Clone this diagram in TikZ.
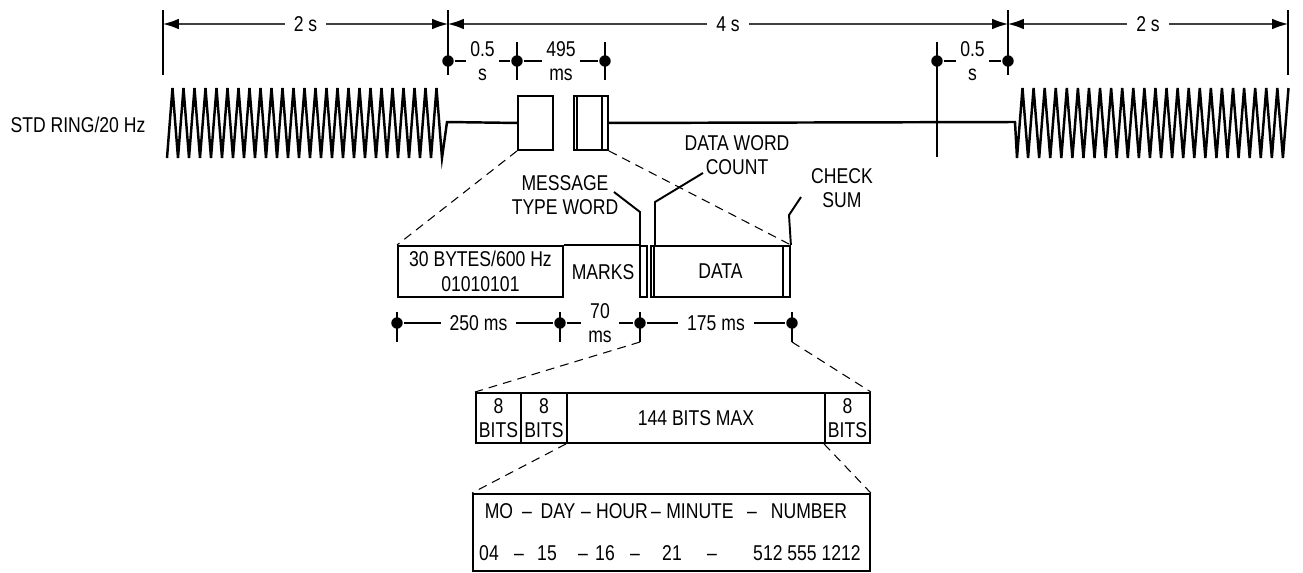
\documentclass[tikz,border=0pt]{standalone}
\usepackage{fontspec}
\setmainfont{Liberation Sans}[FakeStretch=0.82]
\usetikzlibrary{arrows.meta}

\tikzset{
  box/.style={draw, line width=1.1pt, inner sep=0pt, anchor=north west, align=center},
  pt/.style={circle, fill, inner sep=0pt, minimum size=6.5pt},
  gap/.style={fill=white, inner xsep=5pt, inner ysep=1pt, align=center},
  tick/.style={line width=1.1pt},
  zoomline/.style={dash pattern=on 5pt off 3.5pt, line width=0.6pt},
  span/.style={{Latex[length=9pt,width=6pt,color=black]}-{Latex[length=9pt,width=6pt,color=black]}, line width=0.7pt, black!75},
}

\begin{document}
\begin{tikzpicture}[x=0.02cm, y=-0.02cm, font=\fontsize{12.2}{14}\selectfont, line width=1.1pt]
\useasboundingbox (0,0) rectangle (1303,572);

% overall cadence
\foreach \x in {163,448,1008,1288}
	\draw[tick] (\x,10) -- (\x,75);
\coordinate (s0) at (163,24);
\coordinate (s1) at (448,24);
\coordinate (s2) at (1008,24);
\coordinate (s3) at (1288,24);
\draw[span] (s0) -- node[gap,text=black]{2 s} (s1);
\draw[span] (s1) -- node[gap,text=black]{4 s} (s2);
\draw[span] (s2) -- node[gap,text=black]{2 s} (s3);

% 0.5 s / 495 ms marks
\foreach \x in {517,605}
	\draw[tick] (\x,42) -- (\x,80);
\draw[tick] (937,42) -- (937,157);
\node[pt] (a1) at (448,61) {};
\node[pt] (a2) at (517,61) {};
\node[pt] (a3) at (605,61) {};
\node[pt] (a4) at (937,61) {};
\node[pt] (a5) at (1008,61) {};
\draw (a1) -- node[gap,inner xsep=2.5pt]{0.5\\s} (a2) -- node[gap,inner xsep=2.5pt]{495\\ms} (a3);
\draw (a4) -- node[gap,inner xsep=2.5pt]{0.5\\s} (a5);

% ring signal
\node (ring) at (78,125) {STD RING/20 Hz};
\node[box, minimum width=0.7cm, minimum height=1.08cm] (ts1) at (517,95) {};
\node[box, minimum width=0.68cm, minimum height=1.08cm] (ts2) at (573,95) {};
\draw (577,95) -- (577,149) (602,95) -- (602,149);
\draw[line width=1.4pt] (167,158) \foreach \k in {0,...,24}{ -- ({172.5+11*\k},88) -- ({178+11*\k},158) } -- (447,122) -- (ts1.west);
\draw[line width=1.4pt] (ts2.east) -- (1015,122) -- (1017,158)
	\foreach \k in {0,...,23}{ -- ({1022.5+11.08*\k},88) -- ({1028.08+11.08*\k},158) } -- (1288.5,88);

% message
\node[box, minimum width=3.3cm, minimum height=1.02cm] (pre) at (397,245) {30 BYTES/600 Hz\\01010101};
\node[box, minimum width=0.14cm, minimum height=1.02cm] (mtw) at (639,245) {};
\node[box, minimum width=2.78cm, minimum height=1.02cm] (data) at (650,245) {DATA};
\draw (654,245) -- (654,296) (783,245) -- (783,296);
\draw (pre.north east) -- (mtw.north west);
\node (marks) at (603,272) {MARKS};
\draw[zoomline] (ts1.south west) -- (pre.north west);
\draw[zoomline] (ts2.south east) -- (data.north east);

\node[align=center] (mtwlbl) at (565,195) {MESSAGE\\TYPE WORD};
\node[align=center] (dwclbl) at (737,155) {DATA WORD\\COUNT};
\node[align=center] (cklbl) at (842,188) {CHECK\\SUM};
\draw (614,192) -- (640,212) -- (640,245);
\draw (703,173) -- (655,202) -- (655,245);
\draw (801,197) -- (789,215) -- (data.north east);

% message timing
\foreach \x in {397,560,640,792}
	\draw[tick] (\x,312) -- (\x,342);
\node[pt] (b1) at (397,323) {};
\node[pt] (b2) at (560,323) {};
\node[pt] (b3) at (640,323) {};
\node[pt] (b4) at (792,323) {};
\draw (b1) -- node[gap]{250 ms} (b2) -- node[gap,inner xsep=4pt]{70\\ms} (b3) -- node[gap]{175 ms} (b4);
\coordinate (b3x) at (640,342);
\coordinate (b4x) at (792,342);

% data words
\node[box, minimum width=0.9cm, minimum height=1cm] (w1) at (475,392) {8\\BITS};
\node[box, minimum width=0.92cm, minimum height=1cm] (w2) at (520,392) {8\\BITS};
\node[box, minimum width=5.16cm, minimum height=1cm] (w3) at (566,392) {144 BITS MAX};
\node[box, minimum width=0.9cm, minimum height=1cm] (w4) at (824,392) {8\\BITS};
\draw[zoomline] (b3x) -- (w1.north west);
\draw[zoomline] (b4x) -- (w4.north east);

% date and number
\node[box, minimum width=7.94cm, minimum height=1.54cm] (date) at (472,493) {};
\draw[zoomline] (w3.south west) -- (date.north west);
\draw[zoomline] (w4.south west) -- (date.north east);
\foreach \x/\t [count=\i] in {499/MO,527/–,558/DAY,586/–,622/HOUR,656/–,700/MINUTE,752/–,809/NUMBER}
	\node[anchor=base] (f\i) at (\x,518) {\t};
\foreach \x/\t [count=\i] in {489/04,519/–,547/15,583/–,605/16,635/–,672/21,712/–,807/512 555 1212}
	\node[anchor=base] (v\i) at (\x,560) {\t};
\end{tikzpicture}
\end{document}
